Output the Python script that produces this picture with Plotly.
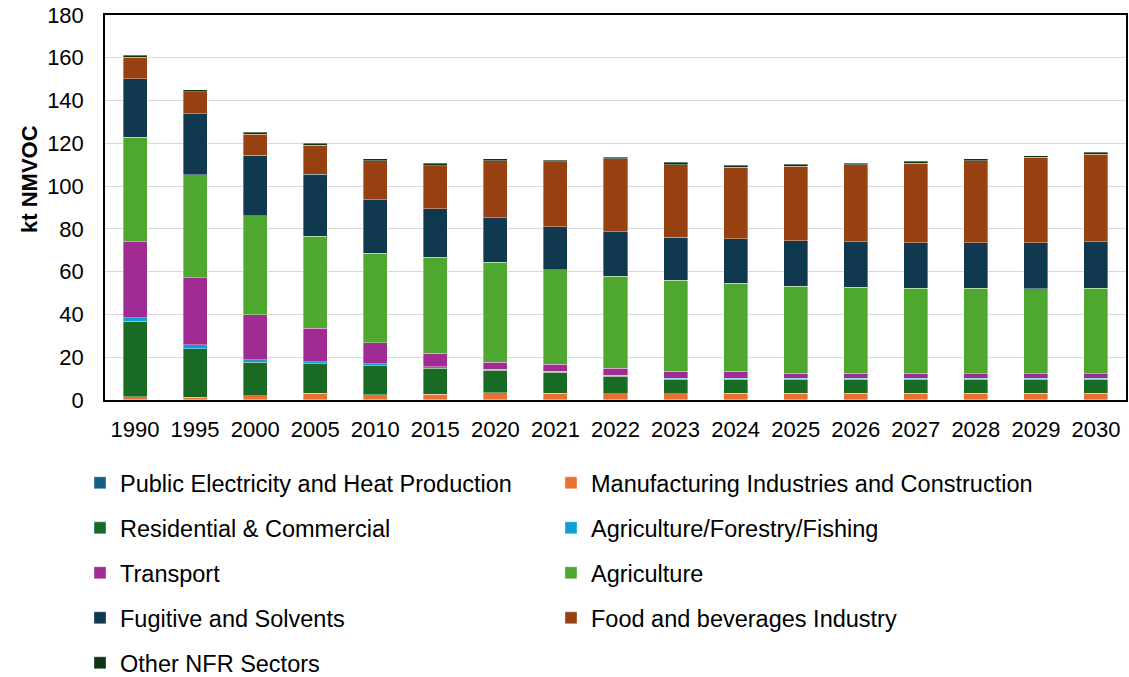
import plotly.graph_objects as go

years = ["1990", "1995", "2000", "2005", "2010", "2015", "2020", "2021", "2022",
         "2023", "2024", "2025", "2026", "2027", "2028", "2029", "2030"]

public_electricity = [0.2, 0.2, 0.2, 0.1, 0.1, 0.1, 0.1, 0.1, 0.1, 0.1, 0.1, 0.1, 0.1, 0.1, 0.1, 0.1, 0.1]
manufacturing = [1.4, 1.0, 1.8, 3.0, 2.4, 2.7, 3.3, 3.0, 2.9, 2.9, 3.0, 3.0, 3.0, 3.0, 3.0, 3.0, 3.0]
residential = [35.2, 22.7, 15.6, 13.8, 13.6, 12.0, 10.5, 9.8, 8.1, 6.7, 6.6, 6.6, 6.6, 6.6, 6.6, 6.6, 6.6]
agri_forestry_fishing = [1.6, 1.9, 1.3, 1.1, 0.9, 0.8, 0.4, 0.5, 0.5, 0.4, 0.4, 0.4, 0.4, 0.4, 0.4, 0.4, 0.4]
transport = [35.5, 31.4, 20.9, 15.6, 9.8, 6.2, 3.3, 3.3, 3.2, 3.3, 3.3, 2.4, 2.4, 2.4, 2.1, 2.1, 2.1]
agriculture = [48.9, 48.0, 46.3, 43.0, 41.8, 44.9, 46.8, 44.2, 43.1, 42.5, 41.3, 40.8, 40.1, 39.7, 40.0, 39.7, 40.0]
fugitive_solvents = [27.5, 28.6, 28.3, 29.0, 25.0, 22.7, 20.7, 20.2, 20.7, 20.3, 20.6, 21.1, 21.3, 21.4, 21.4, 21.7, 21.9]
food_beverages = [10.0, 10.4, 9.8, 13.5, 18.2, 20.1, 26.8, 30.3, 34.2, 33.8, 33.6, 34.8, 36.1, 37.2, 38.3, 39.8, 40.9]
other_nfr = [0.8, 0.8, 1.0, 0.9, 1.0, 1.1, 0.8, 0.8, 0.8, 1.1, 0.9, 1.0, 0.8, 0.9, 0.8, 0.7, 0.8]

series_names = [
    "Public Electricity and Heat Production",
    "Manufacturing Industries and Construction",
    "Residential & Commercial",
    "Agriculture/Forestry/Fishing",
    "Transport",
    "Agriculture",
    "Fugitive and Solvents",
    "Food and beverages Industry",
    "Other NFR Sectors",
]
series_values = [public_electricity, manufacturing, residential, agri_forestry_fishing,
                 transport, agriculture, fugitive_solvents, food_beverages, other_nfr]
series_colors = ["#156082", "#E97132", "#196B24", "#0F9ED5", "#A02B93",
                 "#4EA72E", "#10384F", "#974011", "#0D3512"]

FONT = "Liberation Sans"

# plot area geometry (pixels)
W, H = 1129, 677
ML, MR, MT, MB = 105, 3, 15, 277
PW = W - ML - MR
PH = H - MT - MB

def px_to_paper_x(px):
    return (px - ML) / PW

def px_to_paper_y(py):
    return (H - MB - py) / PH

fig = go.Figure()
legend_rows = [483, 528, 573, 618, 663]
legend_cols = [80, 551]
for i, (name, vals, col) in enumerate(zip(series_names, series_values, series_colors)):
    lname = "legend" if i == 0 else f"legend{i + 1}"
    fig.add_trace(go.Bar(
        x=years, y=vals, name=name,
        marker=dict(color=col, line=dict(color="rgba(255,255,255,0.45)", width=0.8)),
        legend=lname,
        hovertemplate="%{x}: %{y}<extra>" + name + "</extra>",
    ))
    r, c = divmod(i, 2)
    fig.update_layout({lname: dict(
        x=px_to_paper_x(legend_cols[c]), y=px_to_paper_y(legend_rows[r]),
        xanchor="left", yanchor="middle", orientation="v",
        bgcolor="rgba(0,0,0,0)", borderwidth=0,
        font=dict(family=FONT, size=23.5, color="#000000"),
    )})

fig.update_layout(
    barmode="stack",
    bargap=0.6,
    width=W, height=H,
    margin=dict(l=ML, r=MR, t=MT, b=MB, pad=0, autoexpand=False),
    paper_bgcolor="white",
    plot_bgcolor="white",
    font=dict(family=FONT, size=22, color="#000000"),
    showlegend=True,
)
fig.update_xaxes(
    showline=True, linecolor="#000000", linewidth=1.5, mirror=True,
    ticks="", ticklabelstandoff=9, automargin=False,
    tickfont=dict(family=FONT, size=22, color="#000000"),
    showgrid=False,
)
fig.update_yaxes(
    range=[0, 180], dtick=20, tick0=0,
    showline=True, linecolor="#000000", linewidth=1.5, mirror=True,
    showgrid=True, gridcolor="#D9D9D9", gridwidth=1.3,
    zeroline=False, ticks="", ticklabelstandoff=15, automargin=False,
    tickfont=dict(family=FONT, size=22, color="#000000"),
)
fig.add_annotation(
    text="<b>kt NMVOC</b>", textangle=-90,
    x=px_to_paper_x(29), y=px_to_paper_y(179), xref="paper", yref="paper",
    showarrow=False, xanchor="center", yanchor="middle",
    font=dict(family=FONT, size=22, color="#000000"),
)

fig.write_html(
    "out.html",
    config={"displayModeBar": False},
    post_script="document.body.style.margin='0';document.body.style.overflow='hidden';",
)
